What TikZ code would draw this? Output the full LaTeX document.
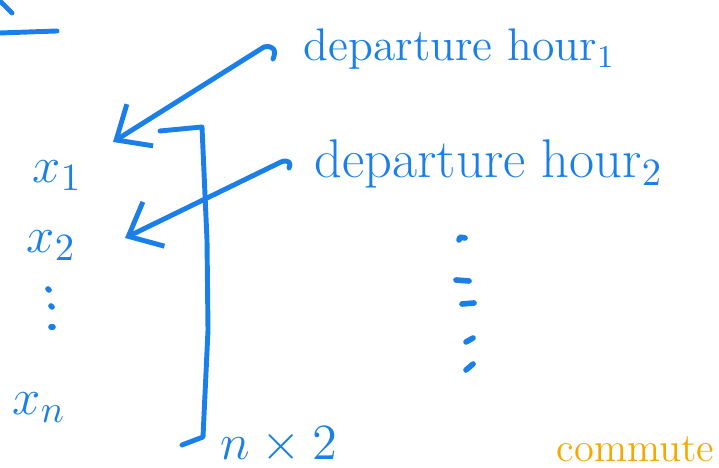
\documentclass[tikz,border=0pt]{standalone}
\usetikzlibrary{arrows.meta}
\definecolor{pen}{RGB}{26,127,232}
\definecolor{hl}{RGB}{245,168,0}
\begin{document}
\begin{tikzpicture}[x=0.01cm,y=-0.01cm,
  ink/.style={draw=pen,line width=1.4pt,line cap=round,line join=round},
  pointer/.style={ink,-{Straight Barb[length=8pt,width=14pt,line width=1.4pt]}},
  lbl/.style={text=pen,inner sep=0pt},
  tick/.style={draw=pen,line width=1.6pt,line cap=round}]
\useasboundingbox (0,0) rectangle (719,468);
% cut-off fragments at top left
\draw[ink] (0,1) -- (12,13);
\draw[ink] (0,33) -- (57,31);
% text labels
\node[lbl,anchor=base west,font=\fontsize{13}{15}\selectfont] (d1) at (303,61) {departure hour$_1$};
\node[lbl,anchor=base west,font=\fontsize{15.5}{18}\selectfont] (d2) at (314,178) {departure hour$_2$};
\node[lbl,anchor=base west,font=\fontsize{15}{18}\selectfont] (x1) at (32,183) {$x_1$};
\node[lbl,anchor=base west,font=\fontsize{15}{18}\selectfont] (x2) at (26,253) {$x_2$};
\node[lbl,anchor=base west,font=\fontsize{15}{18}\selectfont] (xn) at (12,415) {$x_n$};
\node[lbl,anchor=base west,font=\fontsize{14}{17}\selectfont] (nx2) at (220,460) {$n\times 2$};
\node[text=hl,inner sep=0pt,anchor=base west,font=\fontsize{11.5}{14}\selectfont] (cm) at (556,462) {commute};
% hand-drawn vertical dots under x2
\draw[tick] (48,289) -- (49,290);
\draw[tick] (51,306) -- (52,307);
\draw[tick] (51,327) -- (53,327);
% arrows from the labels to the rows
\coordinate (a1s) at (273,59);
\coordinate (a1e) at (113,142);
\coordinate (a2s) at (289,168);
\coordinate (a2e) at (125,238);
\draw[pointer] (a1s) .. controls (277,50) and (273,45) .. (264,47) -- (a1e);
\draw[pointer] (a2s) .. controls (292,163) and (288,159) .. (281,162) -- (a2e);
% bracket
\coordinate (bt) at (160,131);
\coordinate (bb) at (182,445);
\draw[ink] (bt) -- (202,127) -- (207,240) -- (208,330) -- (203,437) -- (bb);
% column of ticks
\draw[tick] (459,240) .. controls (460,237) .. (465,238);
\draw[tick] (456,280) -- (469,281);
\draw[tick] (462,304) -- (474,303);
\draw[tick] (466,342) -- (473,338);
\draw[tick] (466,370) -- (473,364);
\end{tikzpicture}
\end{document}
